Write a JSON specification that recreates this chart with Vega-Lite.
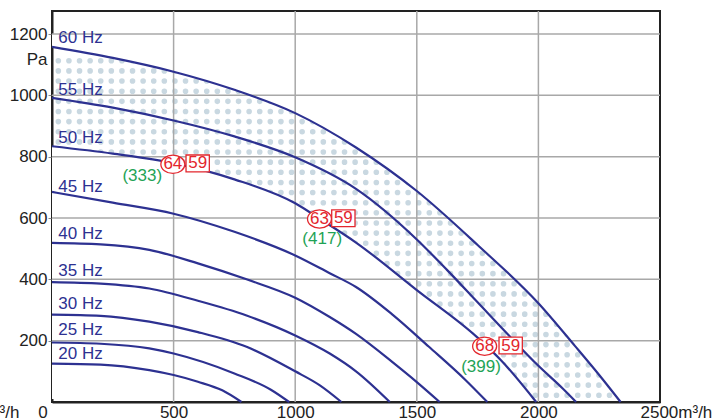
{
  "$schema": "https://vega.github.io/schema/vega-lite/v6.json",
  "width": 608,
  "height": 391,
  "autosize": "none",
  "padding": {"left": 52, "top": 11, "right": 55, "bottom": 18},
  "background": "white",
  "datasets": {
    "curves": [
      {"f": "60 Hz", "q": 0, "p": 1158}, {"f": "60 Hz", "q": 250, "p": 1122}, {"f": "60 Hz", "q": 500, "p": 1077}, {"f": "60 Hz", "q": 750, "p": 1018}, {"f": "60 Hz", "q": 1000, "p": 942}, {"f": "60 Hz", "q": 1250, "p": 830}, {"f": "60 Hz", "q": 1500, "p": 688}, {"f": "60 Hz", "q": 1750, "p": 512}, {"f": "60 Hz", "q": 2000, "p": 322}, {"f": "60 Hz", "q": 2150, "p": 183}, {"f": "60 Hz", "q": 2250, "p": 88}, {"f": "60 Hz", "q": 2338, "p": 0},
      {"f": "55 Hz", "q": 0, "p": 992}, {"f": "55 Hz", "q": 250, "p": 960}, {"f": "55 Hz", "q": 500, "p": 918}, {"f": "55 Hz", "q": 750, "p": 866}, {"f": "55 Hz", "q": 1000, "p": 798}, {"f": "55 Hz", "q": 1250, "p": 695}, {"f": "55 Hz", "q": 1500, "p": 530}, {"f": "55 Hz", "q": 1625, "p": 430}, {"f": "55 Hz", "q": 1750, "p": 325}, {"f": "55 Hz", "q": 1875, "p": 220}, {"f": "55 Hz", "q": 2000, "p": 118}, {"f": "55 Hz", "q": 2100, "p": 44}, {"f": "55 Hz", "q": 2155, "p": 0},
      {"f": "50 Hz", "q": 0, "p": 834}, {"f": "50 Hz", "q": 250, "p": 810}, {"f": "50 Hz", "q": 500, "p": 779}, {"f": "50 Hz", "q": 750, "p": 726}, {"f": "50 Hz", "q": 1000, "p": 648}, {"f": "50 Hz", "q": 1100, "p": 598}, {"f": "50 Hz", "q": 1250, "p": 520}, {"f": "50 Hz", "q": 1500, "p": 365}, {"f": "50 Hz", "q": 1750, "p": 210}, {"f": "50 Hz", "q": 1850, "p": 133}, {"f": "50 Hz", "q": 1991, "p": 0},
      {"f": "45 Hz", "q": 0, "p": 685}, {"f": "45 Hz", "q": 250, "p": 650}, {"f": "45 Hz", "q": 500, "p": 614}, {"f": "45 Hz", "q": 750, "p": 555}, {"f": "45 Hz", "q": 1000, "p": 478}, {"f": "45 Hz", "q": 1142, "p": 420}, {"f": "45 Hz", "q": 1250, "p": 375}, {"f": "45 Hz", "q": 1400, "p": 285}, {"f": "45 Hz", "q": 1550, "p": 180}, {"f": "45 Hz", "q": 1700, "p": 72}, {"f": "45 Hz", "q": 1790, "p": 0},
      {"f": "40 Hz", "q": 0, "p": 519}, {"f": "40 Hz", "q": 200, "p": 514}, {"f": "40 Hz", "q": 400, "p": 496}, {"f": "40 Hz", "q": 600, "p": 452}, {"f": "40 Hz", "q": 800, "p": 400}, {"f": "40 Hz", "q": 1000, "p": 340}, {"f": "40 Hz", "q": 1142, "p": 277}, {"f": "40 Hz", "q": 1250, "p": 222}, {"f": "40 Hz", "q": 1400, "p": 130}, {"f": "40 Hz", "q": 1500, "p": 65}, {"f": "40 Hz", "q": 1594, "p": 0},
      {"f": "35 Hz", "q": 0, "p": 391}, {"f": "35 Hz", "q": 200, "p": 386}, {"f": "35 Hz", "q": 400, "p": 370}, {"f": "35 Hz", "q": 600, "p": 330}, {"f": "35 Hz", "q": 800, "p": 282}, {"f": "35 Hz", "q": 1000, "p": 217}, {"f": "35 Hz", "q": 1142, "p": 158}, {"f": "35 Hz", "q": 1250, "p": 100}, {"f": "35 Hz", "q": 1389, "p": 0},
      {"f": "30 Hz", "q": 0, "p": 285}, {"f": "30 Hz", "q": 200, "p": 281}, {"f": "30 Hz", "q": 400, "p": 262}, {"f": "30 Hz", "q": 600, "p": 228}, {"f": "30 Hz", "q": 800, "p": 180}, {"f": "30 Hz", "q": 1000, "p": 100}, {"f": "30 Hz", "q": 1100, "p": 55}, {"f": "30 Hz", "q": 1190, "p": 0},
      {"f": "25 Hz", "q": 0, "p": 194}, {"f": "25 Hz", "q": 200, "p": 190}, {"f": "25 Hz", "q": 400, "p": 175}, {"f": "25 Hz", "q": 500, "p": 158}, {"f": "25 Hz", "q": 750, "p": 93}, {"f": "25 Hz", "q": 900, "p": 40}, {"f": "25 Hz", "q": 975, "p": 0},
      {"f": "20 Hz", "q": 0, "p": 125}, {"f": "20 Hz", "q": 200, "p": 122}, {"f": "20 Hz", "q": 400, "p": 104}, {"f": "20 Hz", "q": 500, "p": 88}, {"f": "20 Hz", "q": 600, "p": 66}, {"f": "20 Hz", "q": 700, "p": 38}, {"f": "20 Hz", "q": 779, "p": 0}
    ],
    "dotrows": [
      {"p": 1112.6}, {"p": 1079.6}, {"p": 1046.5}, {"p": 1013.5}, {"p": 980.4}, {"p": 947.4}, {"p": 914.3}, {"p": 881.3}, {"p": 848.2}, {"p": 815.2}, {"p": 782.1}, {"p": 749.1}, {"p": 716.0}, {"p": 683.0}, {"p": 649.9}, {"p": 616.9}, {"p": 583.8}, {"p": 550.8}, {"p": 517.7}, {"p": 484.7}, {"p": 451.6}, {"p": 418.6}, {"p": 385.5}, {"p": 352.5}, {"p": 319.4}, {"p": 286.4}, {"p": 253.3}, {"p": 220.3}, {"p": 187.2}, {"p": 154.2}, {"p": 121.1}, {"p": 88.1}, {"p": 55.0}, {"p": 22.0}
    ],
    "gridx": [{"q": 500}, {"q": 1000}, {"q": 1500}, {"q": 2000}],
    "gridy": [{"p": 200}, {"p": 400}, {"p": 600}, {"p": 800}, {"p": 1000}, {"p": 1200}],
    "labels": [
      {"t": "60 Hz", "q": 26, "p": 1186}, {"t": "55 Hz", "q": 26, "p": 1017}, {"t": "50 Hz", "q": 26, "p": 861}, {"t": "45 Hz", "q": 26, "p": 702}, {"t": "40 Hz", "q": 26, "p": 549}, {"t": "35 Hz", "q": 26, "p": 426}, {"t": "30 Hz", "q": 26, "p": 321}, {"t": "25 Hz", "q": 26, "p": 236}, {"t": "20 Hz", "q": 26, "p": 156}
    ],
    "ops": [
      {"q": 497, "p": 775, "rq": 599, "rp": 778, "lq": 371, "lp": 738, "level": "64", "cap": "59", "flow": "(333)"},
      {"q": 1100, "p": 597, "rq": 1198, "rp": 599, "lq": 1111, "lp": 533, "level": "63", "cap": "59", "flow": "(417)"},
      {"q": 1779, "p": 182, "rq": 1886, "rp": 184, "lq": 1764, "lp": 114, "level": "68", "cap": "59", "flow": "(399)"}
    ]
  },
  "layer": [
    {
      "data": {"name": "dotrows"},
      "mark": {"type": "rule", "color": "#c9d8e1", "strokeWidth": 5.6, "strokeCap": "round", "strokeDash": [0.01, 10.59]},
      "encoding": {
        "x": {"datum": 26, "type": "quantitative"},
        "x2": {"datum": 2320},
        "y": {"field": "p", "type": "quantitative"}
      }
    },
    {
      "data": {"name": "curves"},
      "transform": [{"filter": "datum.f == '50 Hz'"}],
      "mark": {"type": "area", "color": "white", "interpolate": "monotone", "opacity": 1},
      "encoding": {
        "x": {"field": "q", "type": "quantitative"},
        "y": {"field": "p", "type": "quantitative"},
        "y2": {"datum": 10}
      }
    },
    {
      "data": {"name": "curves"},
      "transform": [{"filter": "datum.f == '60 Hz'"}],
      "mark": {"type": "area", "color": "white", "interpolate": "monotone", "opacity": 1},
      "encoding": {
        "x": {"field": "q", "type": "quantitative"},
        "y": {"field": "p", "type": "quantitative"},
        "y2": {"datum": 1200}
      }
    },
    {
      "data": {"name": "gridx"},
      "mark": {"type": "rule", "color": "#a8a8a8", "strokeWidth": 1.5},
      "encoding": {"x": {"field": "q", "type": "quantitative"}}
    },
    {
      "data": {"name": "gridy"},
      "mark": {"type": "rule", "color": "#a8a8a8", "strokeWidth": 1.5},
      "encoding": {"y": {"field": "p", "type": "quantitative"}}
    },
    {
      "data": {"name": "curves"},
      "mark": {"type": "line", "color": "#2d3191", "strokeWidth": 2.2, "interpolate": "monotone"},
      "encoding": {
        "x": {
          "field": "q", "type": "quantitative",
          "scale": {"domain": [0, 2500], "nice": false, "zero": false},
          "axis": {
            "title": null,
            "format": "d",
            "values": [0, 500, 1000, 1500, 2000, 2500],
            "labelExpr": "datum.value == 0 ? 'm³/h\u00a0\u00a0\u00a0\u00a00' : datum.value == 2500 ? '2500m³/h' : datum.label",
            "labelAlign": {"condition": [{"test": "datum.value == 0", "value": "right"}, {"test": "datum.value == 2500", "value": "left"}], "value": "center"},
            "labelOffset": {"condition": [{"test": "datum.value == 0", "value": -4.7}, {"test": "datum.value == 2500", "value": -20}], "value": 0}
          }
        },
        "y": {
          "field": "p", "type": "quantitative",
          "scale": {"domain": [0, 1275], "nice": false, "zero": false},
          "axis": {
            "title": "Pa",
            "format": "d",
            "values": [200, 400, 600, 800, 1000, 1200],
            "titleAngle": 0, "titleX": -5, "titleY": 48, "titleAlign": "right", "titleBaseline": "middle",
            "titleFontSize": 17, "titleFontWeight": "normal", "titleColor": "#222", "titleFont": "Liberation Sans"
          }
        },
        "detail": {"field": "f"}
      }
    },
    {
      "data": {"name": "labels"},
      "mark": {"type": "text", "color": "#2d3191", "fontSize": 17, "align": "left", "baseline": "middle", "font": "Liberation Sans"},
      "encoding": {
        "x": {"field": "q", "type": "quantitative"},
        "y": {"field": "p", "type": "quantitative"},
        "text": {"field": "t"}
      }
    },
    {
      "data": {"name": "ops"},
      "mark": {"type": "point", "shape": "M-1,0A1,0.76 0 1,1 1,0A1,0.76 0 1,1 -1,0Z", "size": 576, "filled": true, "fill": "white", "stroke": "#e3262d", "strokeWidth": 1.3, "opacity": 1},
      "encoding": {
        "x": {"field": "q", "type": "quantitative"},
        "y": {"field": "p", "type": "quantitative"}
      }
    },
    {
      "data": {"name": "ops"},
      "mark": {"type": "point", "shape": "M-1,-0.72L1,-0.72L1,0.72L-1,0.72Z", "size": 543, "filled": true, "fill": "white", "stroke": "#e3262d", "strokeWidth": 1.3, "opacity": 1},
      "encoding": {
        "x": {"field": "rq", "type": "quantitative"},
        "y": {"field": "rp", "type": "quantitative"}
      }
    },
    {
      "data": {"name": "ops"},
      "mark": {"type": "text", "color": "#e3262d", "fontSize": 17, "align": "center", "baseline": "middle", "font": "Liberation Sans"},
      "encoding": {
        "x": {"field": "q", "type": "quantitative"},
        "y": {"field": "p", "type": "quantitative"},
        "text": {"field": "level"}
      }
    },
    {
      "data": {"name": "ops"},
      "mark": {"type": "text", "color": "#e3262d", "fontSize": 17, "align": "center", "baseline": "middle", "font": "Liberation Sans"},
      "encoding": {
        "x": {"field": "rq", "type": "quantitative"},
        "y": {"field": "rp", "type": "quantitative"},
        "text": {"field": "cap"}
      }
    },
    {
      "data": {"name": "ops"},
      "mark": {"type": "text", "color": "#1fa356", "fontSize": 17, "align": "center", "baseline": "middle", "font": "Liberation Sans"},
      "encoding": {
        "x": {"field": "lq", "type": "quantitative"},
        "y": {"field": "lp", "type": "quantitative"},
        "text": {"field": "flow"}
      }
    },
    {
      "mark": {"type": "text", "text": "DVN 250 D2 F4 30", "fontSize": 17.5, "fontWeight": "bold", "color": "#1a1a1a", "align": "center", "baseline": "middle", "font": "Liberation Sans"},
      "encoding": {
        "x": {"datum": 2000, "type": "quantitative"},
        "y": {"datum": 1237, "type": "quantitative"}
      }
    }
  ],
  "config": {
    "view": {"stroke": "#222", "strokeWidth": 2},
    "font": "Liberation Sans",
    "axis": {
      "grid": false, "domainColor": "#222", "domainWidth": 2,
      "labelFont": "Liberation Sans", "labelFontSize": 17, "labelColor": "#222",
      "labelOverlap": false, "labelFlush": false, "labelBound": false, "zindex": 1
    },
    "axisX": {"ticks": false, "tickSize": 0, "labelPadding": 2},
    "axisY": {"tickSize": 4, "tickColor": "#888", "tickWidth": 1, "labelPadding": 1}
  }
}
